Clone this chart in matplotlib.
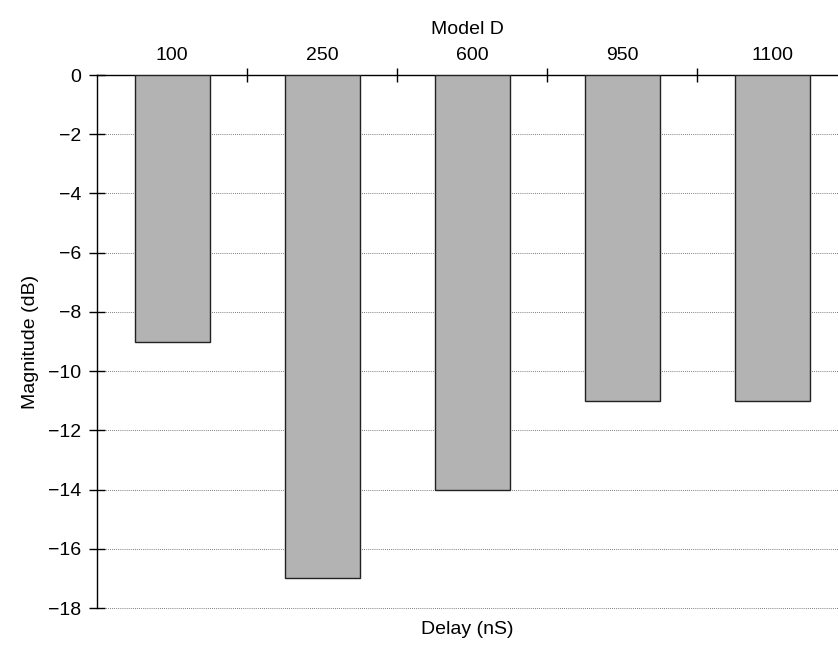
#!/usr/bin/env python3
"""Model D delay profile bar chart."""

import matplotlib
matplotlib.use("Agg")
import matplotlib.pyplot as plt
import numpy as np

DELAYS = ["100", "250", "600", "950", "1100"]
MAGNITUDE_DB = [-9, -17, -14, -11, -11]
Y_TICKS = [0, -2, -4, -6, -8, -10, -12, -14, -16, -18]

plt.rcParams["font.family"] = ["Liberation Sans", "DejaVu Sans"]
plt.rcParams["font.size"] = 14


def main() -> int:
    fig = plt.figure(figsize=(8.38, 6.46), dpi=100)
    ax = fig.add_axes([0.1158, 0.0588, 0.8842, 0.8251])
    x = np.arange(len(DELAYS))

    ax.bar(x, MAGNITUDE_DB, width=0.5, color="#b3b3b3", edgecolor="#222222",
           linewidth=1.0, zorder=3)

    ax.set_xlim(-0.5, 4.44)
    ax.set_ylim(-18.0, 0)
    ax.set_yticks(Y_TICKS)
    ax.yaxis.grid(True, linestyle=(0, (1, 1.5)), color="#555555", linewidth=0.6, zorder=0)
    for line in ax.get_ygridlines():
        line.set_clip_on(False)
    ax.tick_params(axis="y", direction="inout", length=11, width=1.0, pad=6)

    ax.xaxis.tick_top()
    ax.xaxis.set_label_position("top")
    ax.set_xticks(x)
    ax.set_xticklabels(DELAYS)
    ax.set_xticks(x[:-1] + 0.5, minor=True)
    ax.tick_params(axis="x", which="major", length=0, pad=8)
    ax.tick_params(axis="x", which="minor", direction="inout", length=10, width=1.0)
    ax.set_xlabel("Model D", labelpad=9)

    for side in ("right", "bottom"):
        ax.spines[side].set_visible(False)
    ax.spines["top"].set_linewidth(1.0)
    ax.spines["left"].set_linewidth(1.0)

    ax.set_ylabel("Magnitude (dB)", labelpad=6)
    fig.text(0.5579, 0.025, "Delay (nS)", ha="center", va="center", fontsize=14)

    fig.savefig("out.png", dpi=100)
    plt.close(fig)
    return 0


if __name__ == "__main__":
    raise SystemExit(main())
